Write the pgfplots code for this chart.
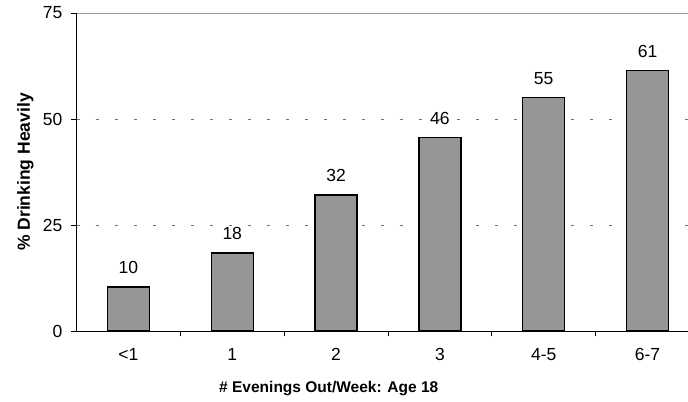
\documentclass[border=0pt]{standalone}
\usepackage{pgfplots}
\pgfplotsset{compat=1.18}
\usepackage{fontspec}
\setmainfont{Liberation Sans}
\definecolor{barfill}{HTML}{969696}

\begin{document}
\begin{tikzpicture}
\begin{axis}[
    at={(0,0)}, anchor=south west,
    scale only axis,
    width=611.5bp, height=318bp,
    xmin=-0.5, xmax=5.39,
    ymin=0, ymax=75,
    axis lines*=left,
    axis line style={black, line width=0.9bp},
    tick align=outside,
    major tick length=5bp,
    tick style={black, line width=0.9bp},
    xtick={0.5,1.5,2.5,3.5,4.5},
    xticklabels={},
    extra x ticks={0,1,2,3,4,5},
    extra x tick labels={<1,1,2,3,4-5,6-7},
    extra x tick style={major tick length=0pt},
    ytick={0,25,50},
    extra y ticks={75},
    extra y tick style={grid style={solid, color=black!38, line width=1bp}},
    ymajorgrids,
    grid style={dash pattern=on 3.5bp off 15.5bp, color=black!55, line width=0.9bp},
    /pgf/number format/assume math mode=true,
    tick label style={font=\fontsize{17.5bp}{20bp}\selectfont},
    xticklabel style={anchor=base, inner sep=0pt, yshift=-29bp},
    yticklabel style={anchor=east, inner sep=0pt, xshift=-9bp},
    xlabel={\bfseries \# Evenings Out/Week: Age 18},
    ylabel={\bfseries \% Drinking Heavily},
    xlabel style={at={(axis cs:1.93,0)}, anchor=base, inner sep=0pt, yshift=-61bp,
        font=\fontsize{15.5bp}{18bp}\selectfont},
    ylabel style={at={([xshift=-46.5bp]axis description cs:0,0.5)}, rotate=0, anchor=base, inner sep=0pt,
        font=\fontsize{17.5bp}{20bp}\selectfont},
    ybar, bar width=42bp,
    nodes near coords,
    point meta=explicit symbolic,
    nodes near coords style={anchor=base, inner sep=0pt, yshift=13bp,
        font=\fontsize{17.5bp}{20bp}\selectfont},
    clip=false,
]
\addplot[fill=barfill, draw=black, line width=1.3bp] coordinates {
    (0,10.4) [10]
    (1,18.4) [18]
    (2,32.1) [32]
    (3,45.7) [46]
    (4,55.0) [55]
    (5,61.4) [61]
};
\end{axis}
\pgfresetboundingbox
\path (-76.5bp,-71bp) rectangle (611.5bp,331bp);
\end{tikzpicture}
\end{document}
